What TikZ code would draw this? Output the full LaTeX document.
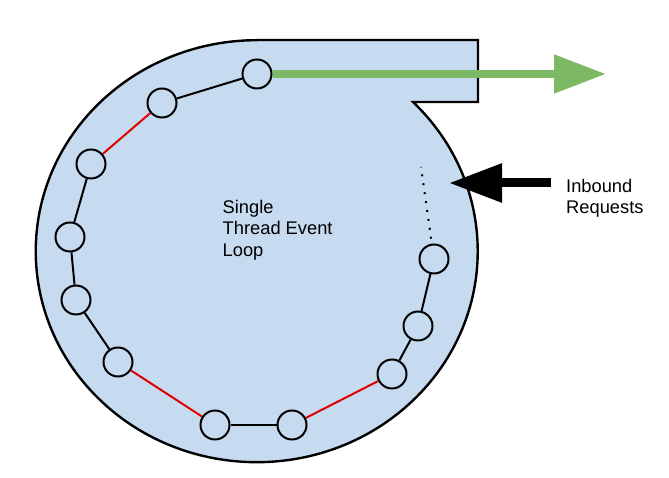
\documentclass[tikz,border=0pt]{standalone}
\usepackage{fontspec}
\setmainfont{Liberation Sans}
\usetikzlibrary{arrows.meta}
\definecolor{loopblue}{RGB}{198,218,240}
\definecolor{outgreen}{RGB}{125,185,100}
\definecolor{hopred}{RGB}{225,0,0}
\begin{document}
\begin{tikzpicture}[x=1pt, y=1pt,
  tick/.style={circle, draw, line width=2pt, fill=loopblue, minimum size=29pt, inner sep=0pt},
  hop/.style={line width=2pt},
  label text/.style={font=\fontsize{18.3}{21.5}\selectfont, align=left, anchor=north west, inner sep=0pt}]
\useasboundingbox (0,0) rectangle (669,478);

\filldraw[fill=loopblue, line width=2.4pt] (257,438) -- (478,438) -- (478,376) -- (413,376)
  arc[start angle=45, end angle=-270, x radius=221, y radius=211] -- cycle;

\node[label text] (looptext) at (222.5,278) {Single\\Thread Event\\Loop};
\node[label text] (inbound) at (566,299) {Inbound\\Requests};

\node[tick] (c1)  at (257,404) {};
\node[tick] (c2)  at (162,375) {};
\node[tick] (c3)  at (91,314) {};
\node[tick] (c4)  at (70,241) {};
\node[tick] (c5)  at (76,178) {};
\node[tick] (c6)  at (118,116) {};
\node[tick] (c7)  at (215,53) {};
\node[tick] (c8)  at (292,53) {};
\node[tick] (c9)  at (392,104) {};
\node[tick] (c10) at (418,152) {};
\node[tick] (c11) at (434,219) {};

\draw[hop] (c1) -- (c2);
\draw[hop, hopred] (c2) -- (c3);
\draw[hop] (c3) -- (c4);
\draw[hop] (c4) -- (c5);
\draw[hop] (c5) -- (c6);
\draw[hop, hopred] (c6) -- (c7);
\draw[hop] (c7) -- (c8);
\draw[hop, hopred] (c8) -- (c9);
\draw[hop] (c9) -- (c10);
\draw[hop] (c10) -- (c11);

\coordinate (dotend) at (421,311);
\draw[line width=2pt, dash pattern=on 2pt off 7pt, shorten <=5pt] (c11) -- (dotend);

\coordinate (outtip) at (606,404);
\draw[outgreen, line width=8pt, -{Triangle[length=52pt, width=37pt]}] (c1) -- (outtip);

\coordinate (reqtail) at (551,295);
\coordinate (reqtip) at (449,295);
\draw[line width=9pt, -{Triangle[length=53pt, width=37pt]}] (reqtail) -- (reqtip);
\end{tikzpicture}
\end{document}
